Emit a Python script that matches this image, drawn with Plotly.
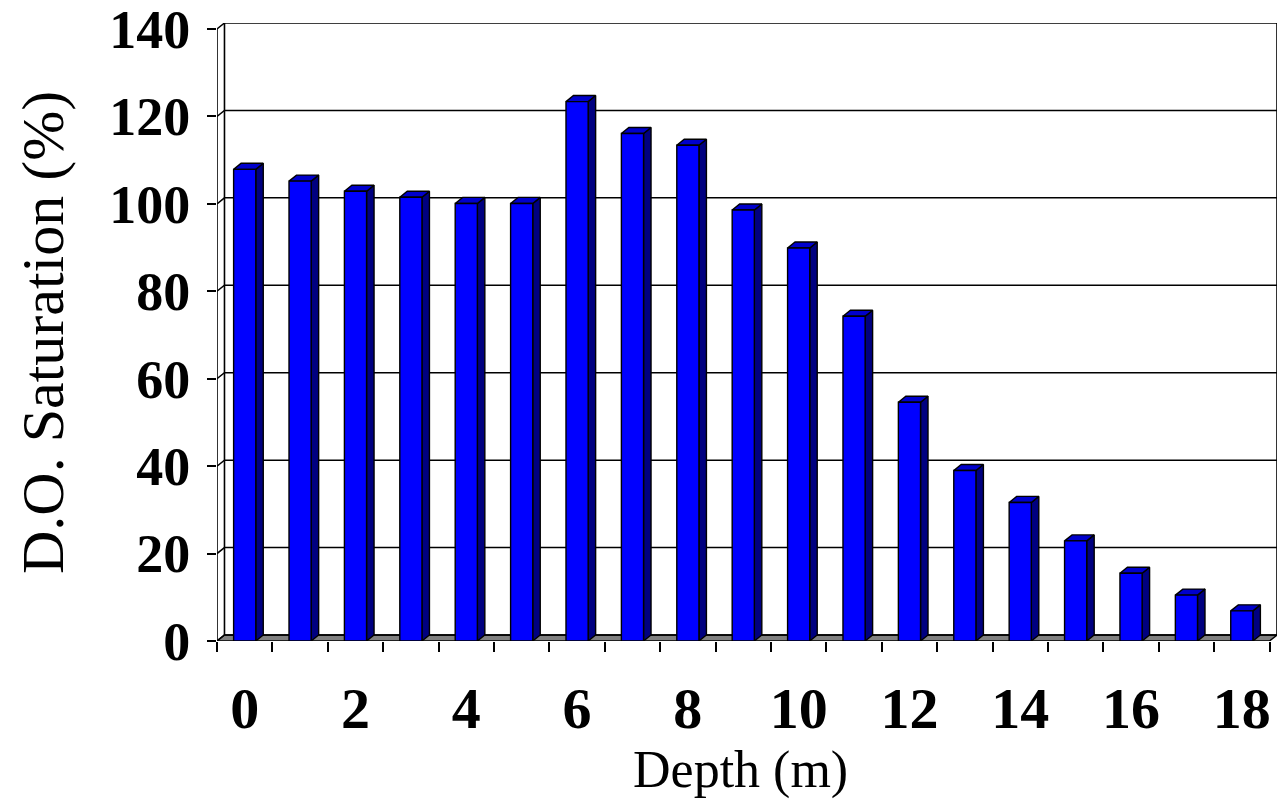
import plotly.graph_objects as go

# ---- data ----
depths = list(range(19))
saturation = [107.9, 105.2, 102.9, 101.5, 100.1, 100.1, 123.4, 116.1, 113.4,
              98.6, 89.9, 74.3, 54.6, 39.0, 31.7, 22.9, 15.5, 10.5, 6.9]
y_ticks = [0, 20, 40, 60, 80, 100, 120, 140]
x_tick_vals = [0, 2, 4, 6, 8, 10, 12, 14, 16, 18]
x_tick_text = [str(v) for v in x_tick_vals]

# ---- pseudo-3D geometry (in data units) ----
DX = 0.135   # depth offset along x (categories)
DY = 1.375   # depth offset along y (value units)
BW = 0.40    # bar width
XMIN, XMAX = -0.5, len(depths) - 0.5
YMAX = 140

FONT = "Liberation Serif"
traces = []

# floor
traces.append(go.Scatter(
    x=[XMIN, XMAX, XMAX + DX, XMIN + DX, XMIN],
    y=[0, 0, DY, DY, 0],
    mode="lines", fill="toself", fillcolor="#808080",
    line=dict(color="black", width=1.4), hoverinfo="skip"))

# gridlines (side wall + back wall)
gx, gy = [], []
for v in y_ticks:
    gx += [XMIN, XMIN + DX, XMAX + DX, None]
    gy += [v, v + DY, v + DY, None]
traces.append(go.Scatter(x=gx, y=gy, mode="lines",
                         line=dict(color="black", width=1.5), hoverinfo="skip"))

# walls frame: back-wall left & right vertical edges, front axis line
fx = [XMIN + DX, XMIN + DX, None, XMAX + DX, XMAX + DX, None, XMIN, XMIN]
fy = [DY, YMAX + DY, None, DY, YMAX + DY, None, 0, YMAX]
traces.append(go.Scatter(x=fx, y=fy, mode="lines",
                         line=dict(color="black", width=1.6), hoverinfo="skip"))

# bars
sx, sy, tx, ty, fxs, fys = [], [], [], [], [], []
for d, v in zip(depths, saturation):
    l, r = d - BW / 2, d + BW / 2
    sx += [r, r + DX, r + DX, r, r, None]
    sy += [0, DY, v + DY, v, 0, None]
    tx += [l, l + DX, r + DX, r, l, None]
    ty += [v, v + DY, v + DY, v, v, None]
    fxs += [l, r, r, l, l, None]
    fys += [0, 0, v, v, 0, None]

traces.append(go.Scatter(x=sx, y=sy, mode="lines", fill="toself", fillcolor="#000080",
                         line=dict(color="black", width=1.4), hoverinfo="skip"))
traces.append(go.Scatter(x=tx, y=ty, mode="lines", fill="toself", fillcolor="#0000CC",
                         line=dict(color="black", width=1.4), hoverinfo="skip"))
traces.append(go.Scatter(x=fxs, y=fys, mode="lines", fill="toself", fillcolor="#0000FF",
                         line=dict(color="black", width=1.4), hoverinfo="skip"))

fig = go.Figure(traces)
for t in fig.data:
    t.cliponaxis = False
    t.showlegend = False

fig.update_layout(
    width=1278, height=799,
    margin=dict(l=217, r=1, t=23, b=158),
    paper_bgcolor="white", plot_bgcolor="white",
    showlegend=False,
    xaxis=dict(
        range=[XMIN, XMAX + DX], showgrid=False, zeroline=False, showline=False,
        tickmode="array", tickvals=x_tick_vals, ticktext=x_tick_text, ticks="",
        tickfont=dict(family=FONT, size=58, color="black", weight="bold"),
        ticklabelstandoff=28, ticklabeloverflow="allow",
        minor=dict(tickmode="array", tickvals=[XMIN + i for i in range(len(depths) + 1)],
                   ticks="outside", ticklen=10, tickwidth=1.5, tickcolor="black"),
    ),
    yaxis=dict(
        range=[0, YMAX + DY], showgrid=False, zeroline=False, showline=False,
        tickmode="array", tickvals=y_ticks, ticks="outside", ticklen=9,
        tickwidth=1.5, tickcolor="black",
        tickfont=dict(family=FONT, size=54, color="black", weight="bold"),
        ticklabelstandoff=6, ticklabeloverflow="allow",
    ),
    annotations=[
        dict(text="D.O. Saturation (%)", xref="paper", yref="paper",
             x=(43 - 217) / 1060, y=(641 - 333) / 618, textangle=-90,
             xanchor="center", yanchor="middle", showarrow=False,
             font=dict(family=FONT, size=60, color="black")),
        dict(text="Depth (m)", xref="paper", yref="paper",
             x=(740 - 217) / 1060, y=(641 - 770) / 618,
             xanchor="center", yanchor="middle", showarrow=False,
             font=dict(family=FONT, size=52, color="black")),
    ],
)

fig.write_html("out.html")
